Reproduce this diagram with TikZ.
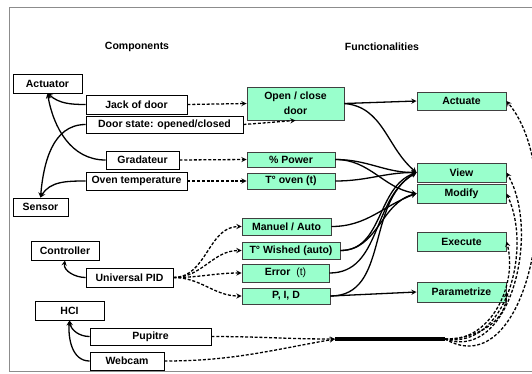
\documentclass[tikz,border=0pt]{standalone}
\usepackage{fontspec}
\setmainfont{Liberation Sans}
\usepackage{tikz}
\usetikzlibrary{arrows}
\definecolor{mint}{RGB}{153,255,204}
\tikzstyle{component} = [rectangle, minimum height=18pt, inner sep=0pt, text centered, draw=black, fill=white, line width=0.9pt]
\tikzstyle{functionality} = [rectangle, minimum height=18pt, inner sep=0pt, text centered, draw=black!75, fill=mint, line width=0.9pt]
\tikzstyle{arrow} = [line width=1.3pt,->,>=stealth]
\tikzstyle{dasharrow} = [line width=1.3pt,dash pattern=on 3pt off 1.8pt,->,>=stealth]

\begin{document}
\begin{tikzpicture}[x=1pt, y=1pt, every node/.style={font=\bfseries\fontsize{10.5}{12.6}\selectfont}]

\useasboundingbox (0,0) rectangle (532,-373);
\draw [black!45, line width=1pt] (540,-7) -- (9,-7) -- (9,-371) -- (540,-371);

\node (titlecomp) at (137,-47) {Components};
\node (titlefunc) at (382,-47) {Functionalities};

% components
\node (actuator) [component, minimum width=69pt, minimum height=19pt] at (47.5,-83.5) {Actuator};
\node (jack) [component, minimum width=101pt, minimum height=19pt] at (136.5,-104.5) {Jack of door};
\node (doorstate) [component, minimum width=157pt, minimum height=17pt] at (164.5,-124.5) {Door state: opened/closed};
\node (gradateur) [component, minimum width=73pt] at (142.5,-160) {Gradateur};
\node (oventemp) [component, minimum width=101pt] at (136.5,-181) {Oven temperature};
\node (sensor) [component, minimum width=55pt] at (40.5,-207) {Sensor};
\node (controller) [component, minimum width=68pt, minimum height=19pt] at (65,-250.5) {Controller};
\node (pid) [component, minimum width=87pt, minimum height=19pt] at (129.5,-277.5) {Universal PID};
\node (hci) [component, minimum width=69pt, minimum height=19pt] at (69.5,-310.5) {HCI};
\node (pupitre) [component, minimum width=121pt, minimum height=17pt] at (150.5,-336.5) {Pupitre};
\node (webcam) [component, minimum width=74pt] at (127,-361) {Webcam};

% functionalities
\node (opendoor) [functionality, minimum width=97pt, minimum height=33pt, align=center] at (295.5,-103.5) {Open / close\\[2pt] door};
\node (power) [functionality, minimum width=88pt, minimum height=15pt] at (291,-159.5) {\% Power\hspace{18pt}};
\node (toven) [functionality, minimum width=88pt, minimum height=16pt] at (291,-181) {T° oven (t)};
\node (manuel) [functionality, minimum width=89pt, minimum height=17pt] at (286.5,-226.5) {Manuel / Auto};
\node (wished) [functionality, minimum width=98pt, minimum height=17pt] at (291,-250.5) {T° Wished (auto)};
\node (error) [functionality, minimum width=87pt] at (285.5,-273) {Error\ \ \textmd{(t)}};
\node (pidparams) [functionality, minimum width=88pt, minimum height=16pt] at (286,-296) {P, I, D};

\node (actuate) [functionality, minimum width=89pt] at (461.5,-101) {Actuate};
\node (view) [functionality, minimum width=89pt, minimum height=19pt] at (461.5,-172.5) {View\hspace{20pt}};
\node (modify) [functionality, minimum width=89pt, minimum height=19pt] at (461.5,-193.5) {Modify};
\node (execute) [functionality, minimum width=89pt, minimum height=19pt] at (461.5,-241.5) {Execute};
\node (parametrize) [functionality, minimum width=89pt, minimum height=20pt] at (461.5,-292) {Parametrize};

\coordinate (busin) at (335,-339);
\coordinate (busout) at (445,-339);
\draw [line width=4pt] (busin) -- (busout);

% components to their kind
\draw [arrow] (jack.west) to[out=180,in=-40] (actuator.south);
\draw [arrow] (gradateur.west) to[out=180,in=-80] (actuator.south);
\draw [arrow] (doorstate.west) to[out=180,in=85] (sensor.north);
\draw [arrow] (oventemp.west) to[out=180,in=60] (sensor.north);
\draw [arrow] (pid.west) to[out=180,in=-100] (controller.south);
\draw [arrow] (pupitre.west) to[out=180,in=-80] (hci.south);
\draw [arrow] (webcam.west) to[out=180,in=-95] (hci.south);

% components to functionalities
\draw [dasharrow] (jack.east) -- (opendoor.west);
\draw [dasharrow] (doorstate.east) -- (opendoor.south);
\draw [dasharrow] (gradateur.east) -- (power.west);
\draw [dasharrow] (oventemp.east) -- (toven.west);
\draw [dasharrow] (pid.east) to[out=0,in=180] (manuel.west);
\draw [dasharrow] (pid.east) to[out=0,in=180] (wished.west);
\draw [dasharrow] (pid.east) to[out=0,in=180] (error.west);
\draw [dasharrow] (pid.east) to[out=0,in=180] (pidparams.west);
\draw [dasharrow] (pupitre.east) to[out=0,in=180] (busin);
\draw [dasharrow] (webcam.east) to[out=0,in=190] (busin);

% HCI bus
\draw [dasharrow] (busout) to[out=-30,in=-50] (actuate.east);
\draw [dasharrow] (busout) to[out=-20,in=-60] (view.east);
\draw [dasharrow] (busout) to[out=-10,in=-65] (modify.east);
\draw [dasharrow] (busout) to[out=-5,in=-75] (execute.east);
\draw [dasharrow] (busout) to[out=0,in=-90] (parametrize.east);

% functionalities to actions
\draw [arrow] (opendoor.east) -- (actuate.west);
\draw [arrow] (opendoor.east) to[out=-5,in=140] (view.west);
\draw [arrow] (power.east) to[out=0,in=180] (view.west);
\draw [arrow] (power.east) to[out=0,in=170] (modify.west);
\draw [arrow] (toven.east) to[out=0,in=180] (view.west);
\draw [arrow] (manuel.east) to[out=0,in=200] (modify.west);
\draw [arrow] (wished.east) to[out=0,in=200] (view.west);
\draw [arrow] (wished.east) to[out=0,in=195] (modify.west);
\draw [arrow] (error.east) to[out=0,in=210] (view.west);
\draw [arrow] (pidparams.east) to[out=0,in=210] (view.west);
\draw [arrow] (pidparams.east) -- (parametrize.west);

\end{tikzpicture}
\end{document}
